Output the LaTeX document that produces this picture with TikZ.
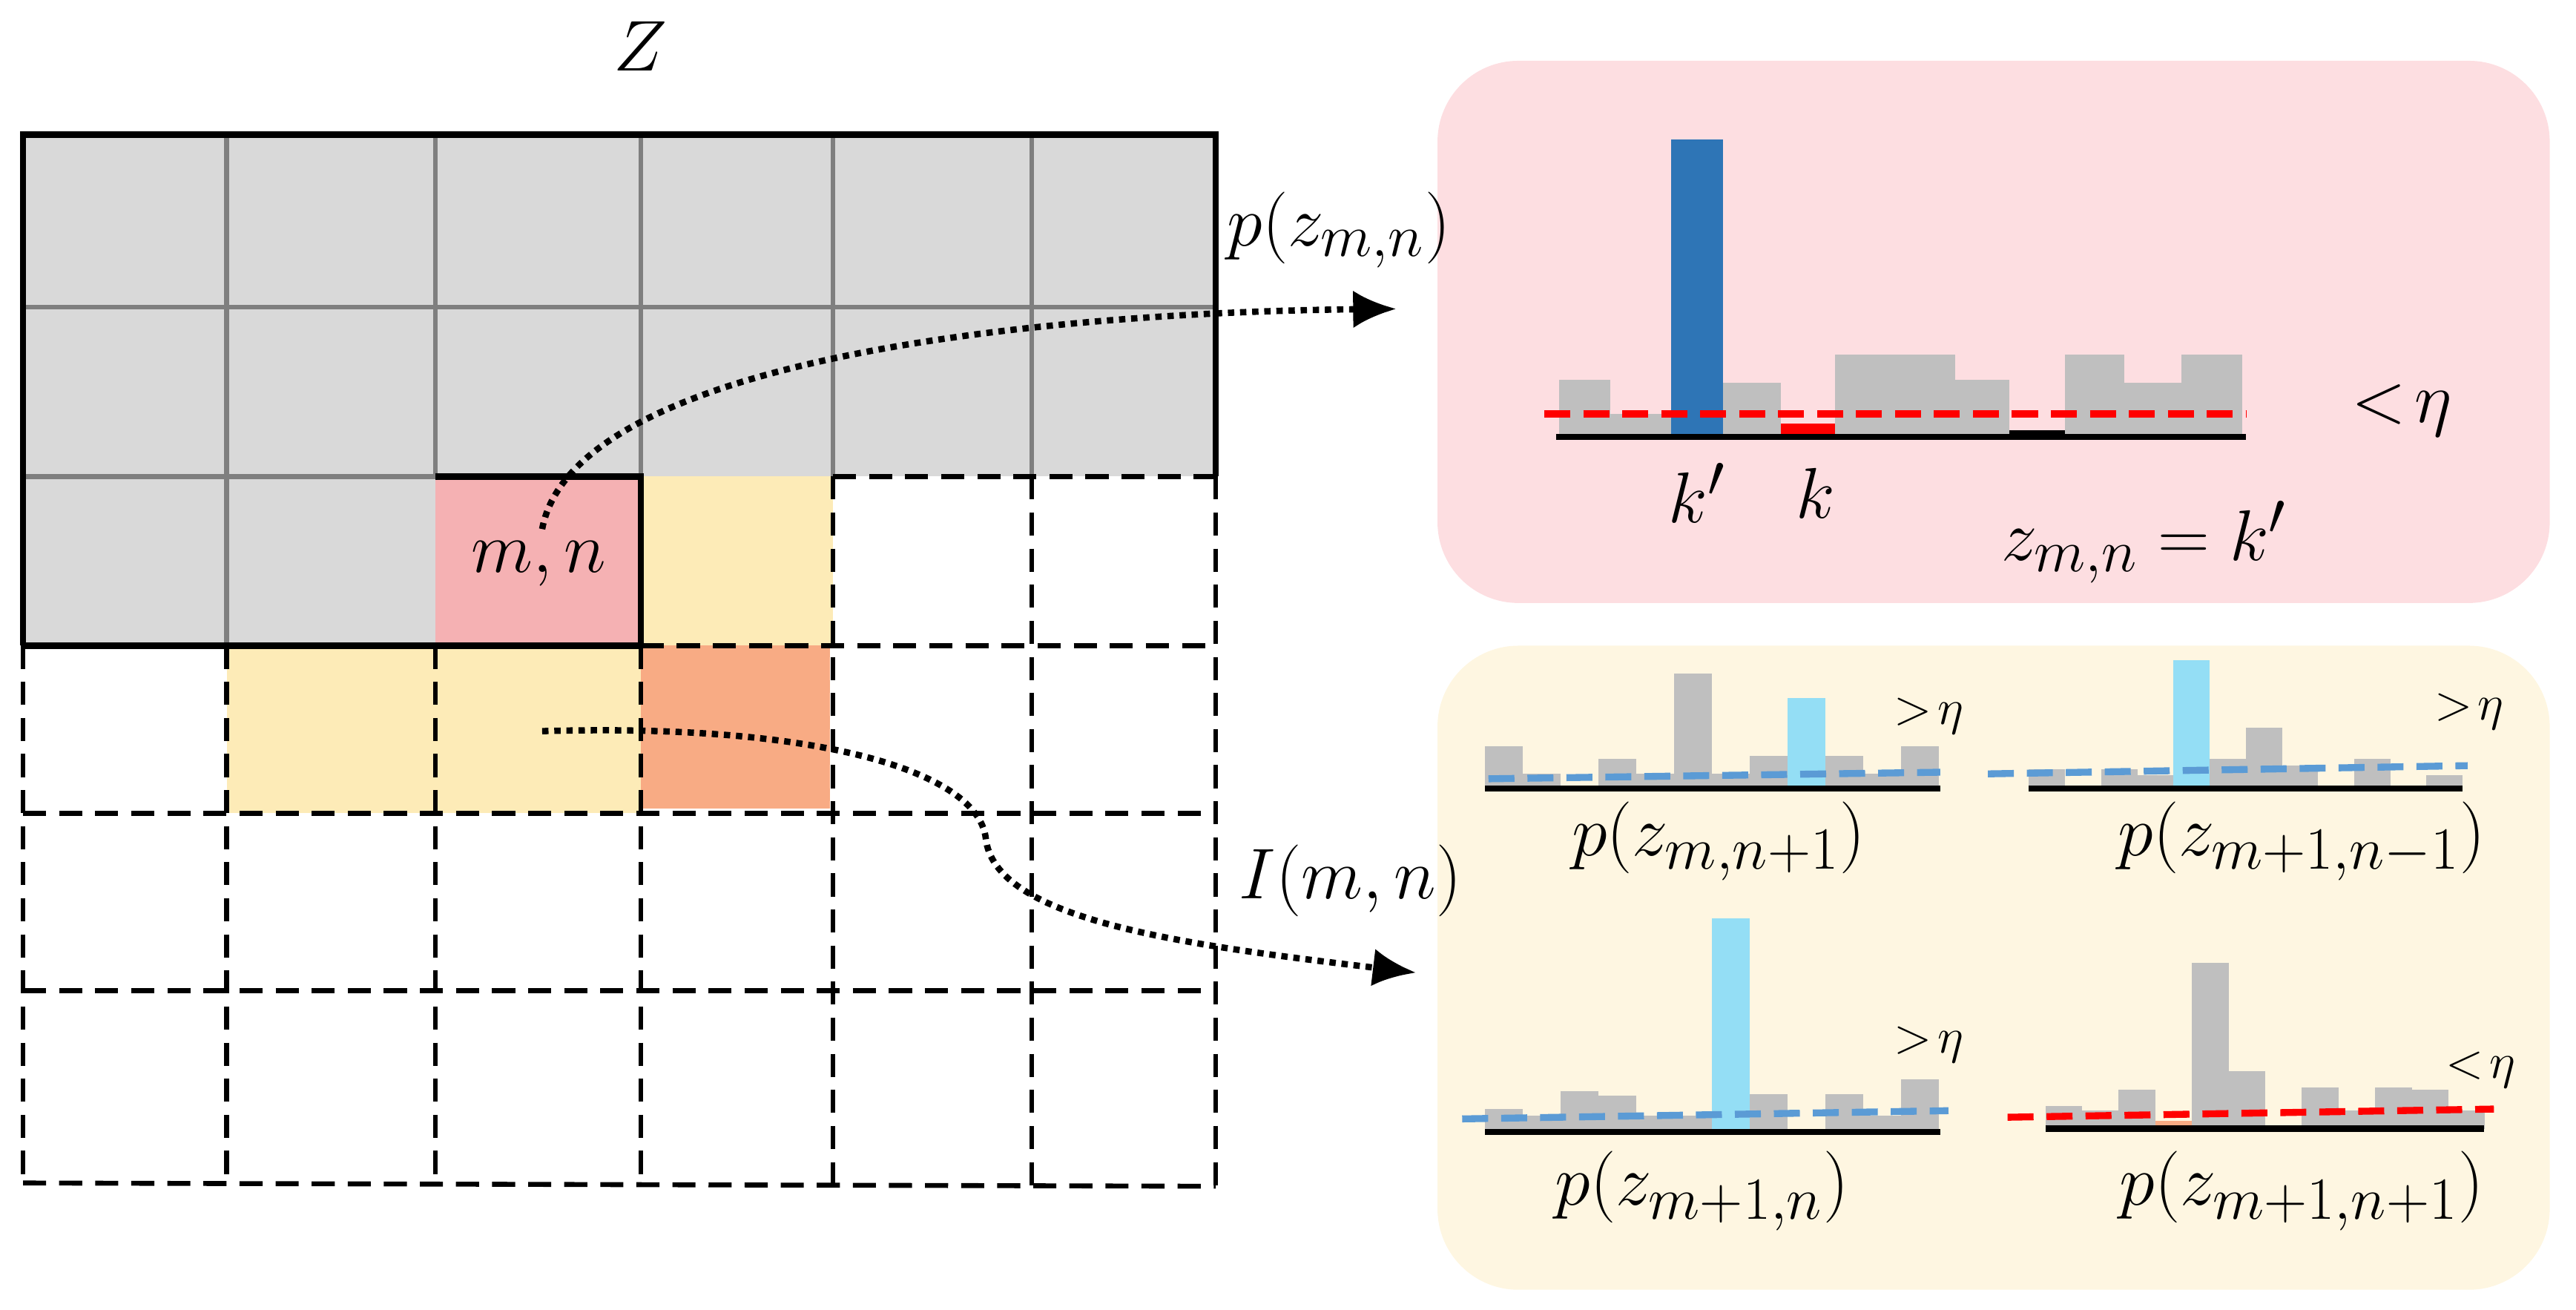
\documentclass[tikz,border=0pt]{standalone}
\usetikzlibrary{arrows.meta}
\definecolor{gfill}{HTML}{D9D9D9}
\definecolor{gline}{HTML}{7F7F7F}
\definecolor{pinkbox}{HTML}{FDDEE1}
\definecolor{yelbox}{HTML}{FEF6E1}
\definecolor{pinkcell}{HTML}{F5B1B3}
\definecolor{yelcell}{HTML}{FDEBB7}
\definecolor{orcell}{HTML}{F8AB84}
\definecolor{barg}{HTML}{BFBFBF}
\definecolor{barblue}{HTML}{2E75B6}
\definecolor{barcyan}{HTML}{94DEF5}
\definecolor{dblue}{HTML}{5B9BD5}
\begin{document}
\begin{tikzpicture}[x=0.02cm,y=-0.02cm,
  grid/.style={gline,line width=1.7pt},
  dgrid/.style={black,line width=1.7pt,dash pattern=on 8pt off 4.5pt},
  conn/.style={line width=2.2pt,dotted,-{Latex[length=15pt,width=13pt]}},
  lab/.style={font=\fontsize{28}{32}\selectfont,inner sep=0pt},
  small/.style={font=\fontsize{16}{18}\selectfont,inner sep=0pt},
  axis/.style={black,line width=2.2pt},
  rdash/.style={red,line width=2.4pt,dash pattern=on 9pt off 4.5pt},
  bdash/.style={dblue,line width=2.4pt,dash pattern=on 9pt off 4.5pt}]
\useasboundingbox (0,0) rectangle (1568,797);
% panels
\fill[pinkbox,rounded corners=28pt] (875,37) rectangle (1552,367);
\fill[yelbox,rounded corners=28pt] (875,393) rectangle (1552,785);
% grid fills
\fill[gfill] (14,82) rectangle (740,290);
\fill[gfill] (14,290) rectangle (265,393);
\fill[pinkcell] (265,290) rectangle (390,393);
\fill[yelcell] (390,290) rectangle (507,393);
\fill[yelcell] (138,393) rectangle (390,495);
\fill[orcell] (390,393) rectangle (505,492);
% gray internal lines
\foreach \x in {138,265,390,507,628} \draw[grid] (\x,82) -- (\x,290);
\draw[grid] (138,290) -- (138,393);
\draw[grid] (14,187) -- (740,187);
\draw[grid] (14,290) -- (265,290);
% dashed lower grid
\foreach \y in {495,603} \draw[dgrid] (14,\y) -- (740,\y);
\draw[dgrid] (14,720) -- (740,722);
\draw[dgrid] (390,393) -- (740,393);
\draw[dgrid] (507,290) -- (740,290);
\foreach \x in {138,265,390} \draw[dgrid] (\x,393) -- (\x,720);
\foreach \x in {507,628,740} \draw[dgrid] (\x,290) -- (\x,722);
\draw[dgrid] (14,393) -- (14,720);
% black outline
\draw[black,line width=2.2pt] (265,290) -- (390,290) -- (390,393);
\draw[black,line width=2.2pt] (14,393) -- (14,82) -- (740,82) -- (740,290);
\draw[black,line width=2.2pt] (14,393) -- (390,393);
% labels
\node[lab] (Z) at (390,28) {$Z$};
\node[lab] (mn) at (328,343) {$m,n$};
\node[lab] (pz) at (815,140) {$p\big(z_{m,n}\big)$};
\node[lab] (Imn) at (822,536) {$I(m,n)$};
% top histogram
\foreach \a/\b/\t in {949/980/231,980/1017/252,1049/1084/233,1117/1190/216,1190/1223/231,1257/1293/216,1293/1328/233,1328/1365/216}
  \fill[barg] (\a,\t) rectangle (\b,266);
\fill[barblue] (1017,85) rectangle (1049,266);
\fill[red] (1084,258) rectangle (1117,266);
\fill[black] (1223,262) rectangle (1257,266);
\draw[axis] (947,266) -- (1367,266);
\draw[rdash] (940,252) -- (1367,252);
\node[lab] (kp) at (1033,300) {$k'$};
\node[lab] (k) at (1105,300) {$k$};
\node[lab] (lt) at (1462,250) {$<\!\eta$};
\node[lab] (zk) at (1305,330) {$z_{m,n}=k'$};
% small histograms
\newcommand{\hbars}[4]{% x0, width, axis y, list of h/c
  \foreach \h/\c [count=\i from 0] in {#4} {
    \fill[\c] ({#1+\i*#2},#3-\h) rectangle ({#1+(\i+1)*#2},#3);}}
\hbars{904}{23}{480}{26/barg,9/barg,0/barg,18/barg,9/barg,70/barg,9/barg,20/barg,55/barcyan,20/barg,9/barg,26/barg}
\draw[axis] (904,480) -- (1181,480);
\draw[bdash] (906,474) -- (1181,470);
\hbars{1235}{22}{480}{12/barg,0/barg,12/barg,8/barg,78/barcyan,18/barg,37/barg,14/barg,0/barg,18/barg,0/barg,8/barg}
\draw[axis] (1235,480) -- (1499,480);
\draw[bdash] (1210,471) -- (1502,466);
\hbars{904}{23}{689}{14/barg,10/barg,25/barg,22/barg,10/barg,10/barg,130/barcyan,23/barg,0/barg,23/barg,10/barg,32/barg}
\draw[axis] (904,689) -- (1181,689);
\draw[bdash] (890,681) -- (1186,676);
\hbars{1245}{22.3}{687}{14/barg,11/barg,24/barg,5/orcell,101/barg,35/barg,0/barg,25/barg,11/barg,25/barg,24/barg,11/barg}
\draw[axis] (1245,687) -- (1512,687);
\draw[rdash] (1222,680) -- (1518,675);
\node[small] (g1) at (1174,436) {$>\!\eta$};
\node[small] (g2) at (1503,433) {$>\!\eta$};
\node[small] (g3) at (1174,636) {$>\!\eta$};
\node[small] (l4) at (1510,651) {$<\!\eta$};
\node[lab] (p1) at (1046,512) {$p\big(z_{m,n+1}\big)$};
\node[lab] (p2) at (1401,512) {$p\big(z_{m+1,n-1}\big)$};
\node[lab] (p3) at (1036,725) {$p\big(z_{m+1,n}\big)$};
\node[lab] (p4) at (1401,725) {$p\big(z_{m+1,n+1}\big)$};
% connectors
\coordinate (s1) at (330,322);
\coordinate (e1) at (850,188);
\coordinate (s2) at (330,445);
\coordinate (e2) at (862,592);
\draw[conn] (s1) .. controls (350,215) and (650,190) .. (e1);
\draw[conn] (s2) .. controls (500,440) and (595,470) .. (600,510)
  .. controls (605,560) and (720,575) .. (e2);
\end{tikzpicture}
\end{document}
